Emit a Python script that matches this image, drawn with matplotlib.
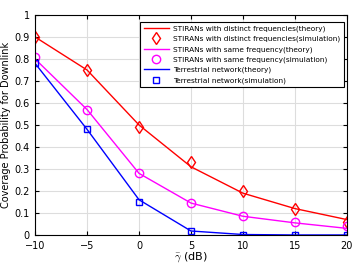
import matplotlib
matplotlib.use('Agg')
import matplotlib.pyplot as plt

snr_db = [-10, -5, 0, 5, 10, 15, 20]

distinct_theory = [0.90, 0.75, 0.50, 0.31, 0.19, 0.12, 0.07]
distinct_sim = [0.90, 0.75, 0.49, 0.33, 0.20, 0.12, 0.06]
same_theory = [0.80, 0.57, 0.28, 0.145, 0.085, 0.055, 0.03]
same_sim = [0.81, 0.57, 0.28, 0.145, 0.085, 0.058, 0.04]
terr_theory = [0.78, 0.48, 0.16, 0.018, 0.002, 0.0, 0.0]
terr_sim = [0.78, 0.48, 0.15, 0.02, 0.0, 0.0, 0.0]

plt.rcParams['mathtext.fontset'] = 'cm'

fig = plt.figure(figsize=(3.55, 2.64), dpi=100)
ax = fig.add_axes([0.099, 0.11, 0.878, 0.833])

ax.plot(snr_db, distinct_theory, color='red', lw=1.0,
        label='STIRANs with distinct frequencies(theory)')
ax.plot(snr_db, distinct_sim, color='red', ls='none', marker='d', ms=6,
        mfc='none', mew=1.0, label='STIRANs with distinct frequencies(simulation)')
ax.plot(snr_db, same_theory, color='magenta', lw=1.0,
        label='STIRANs with same frequency(theory)')
ax.plot(snr_db, same_sim, color='magenta', ls='none', marker='o', ms=6,
        mfc='none', mew=1.0, label='STIRANs with same frequency(simulation)')
ax.plot(snr_db, terr_theory, color='blue', lw=1.0,
        label='Terrestrial network(theory)')
ax.plot(snr_db, terr_sim, color='blue', ls='none', marker='s', ms=5,
        mfc='none', mew=1.0, label='Terrestrial network(simulation)')

ax.set_xlim(-10, 20)
ax.set_ylim(0, 1)
ax.set_xticks(range(-10, 21, 5))
ax.set_yticks([i / 10 for i in range(11)])
ax.set_yticklabels(['0', '0.1', '0.2', '0.3', '0.4', '0.5', '0.6', '0.7', '0.8', '0.9', '1'])
ax.tick_params(direction='in', top=True, right=True, labelsize=7, length=3)
ax.tick_params(axis='x', pad=4)
ax.tick_params(axis='y', pad=4)
ax.grid(True, color='#dddddd', lw=0.8)
for s in ax.spines.values():
    s.set_linewidth(0.8)

ax.set_xlabel(r'$\bar{\gamma}$ (dB)', fontsize=8, labelpad=0)
ax.set_ylabel('Coverage Probability for Downlink', fontsize=7, labelpad=2)

leg = ax.legend(loc='upper right', bbox_to_anchor=(0.99, 0.968), fontsize=5.3,
                fancybox=False, framealpha=1, edgecolor='black',
                handlelength=3.4, borderpad=0.45, labelspacing=0.5,
                handletextpad=0.6, borderaxespad=0)
leg.get_frame().set_linewidth(0.8)

fig.savefig('out.png', dpi=100)
